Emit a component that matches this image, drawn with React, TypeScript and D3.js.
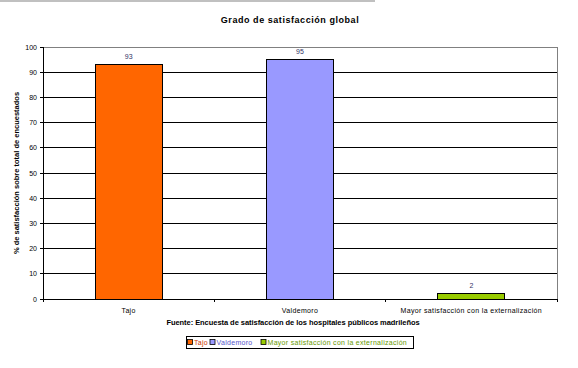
import React from "react";
import * as d3 from "d3";

const categories = ["Tajo", "Valdemoro", "Mayor satisfacción con la externalización"];
const values = [93, 95, 2];
const colors = ["#FF6600", "#9999FF", "#99CC00"];
const legendTextColors = ["#cc3300", "#5555cc", "#669900"];
const yTicks = [0, 10, 20, 30, 40, 50, 60, 70, 80, 90, 100];

const W = 578, H = 368;
const L = 43, R = 557, T = 47, B = 299;
const FONT = "'Liberation Sans', Arial, sans-serif";

export default function App() {
  const x = d3.scaleBand<string>().domain(categories).range([L, R]).padding(0);
  const y = d3.scaleLinear().domain([0, 100]).range([B, T]);
  const bw = x.bandwidth() * 0.39;

  const legendItems = categories;
  const legendX = 186, legendY = 336, legendW = 227, legendH = 12;
  const legendOffsets = [1.5, 24, 75];

  return (
    <svg width={W} height={H} style={{ position: "absolute", left: 0, top: 0, background: "#fff" }} fontFamily={FONT}>
      <rect x={0} y={0} width={375} height={2} fill="#c0c0c0" />
      <text x={290} y={23} textAnchor="middle" fontSize={9} fontWeight="bold" letterSpacing={0.55} fill="#000">
        Grado de satisfacción global
      </text>

      {yTicks.filter(t => t > 0 && t < 100).map(t => (
        <line key={t} x1={L} x2={R} y1={y(t)} y2={y(t)} stroke="#000" strokeWidth={1} shapeRendering="crispEdges" />
      ))}
      <line x1={L} x2={R} y1={y(100)} y2={y(100)} stroke="#808080" strokeWidth={1} shapeRendering="crispEdges" />
      <line x1={R} x2={R} y1={y(100)} y2={y(0)} stroke="#808080" strokeWidth={1} shapeRendering="crispEdges" />

      {categories.map((c, i) => {
        const cx = (x(c) as number) + x.bandwidth() / 2;
        return (
          <g key={c}>
            <rect x={cx - bw / 2} y={y(values[i])} width={bw} height={y(0) - y(values[i])}
              fill={colors[i]} stroke="#000" strokeWidth={1} shapeRendering="crispEdges" />
            <text x={cx} y={y(values[i]) - 6} textAnchor="middle" fontSize={7} fill="#333366">{values[i]}</text>
          </g>
        );
      })}

      <line x1={L} x2={L} y1={y(100)} y2={y(0)} stroke="#000" strokeWidth={1} shapeRendering="crispEdges" />
      <line x1={L} x2={R} y1={y(0)} y2={y(0)} stroke="#000" strokeWidth={1} shapeRendering="crispEdges" />
      {yTicks.map(t => (
        <g key={t}>
          <line x1={L - 3} x2={L} y1={y(t)} y2={y(t)} stroke="#000" shapeRendering="crispEdges" />
          <text x={L - 6} y={y(t) + 2.5} textAnchor="end" fontSize={7} fill="#000">{t}</text>
        </g>
      ))}
      {[...categories.map(c => x(c) as number), R].map((px, i) => (
        <line key={i} x1={px} x2={px} y1={y(0)} y2={y(0) + 3} stroke="#000" shapeRendering="crispEdges" />
      ))}
      {categories.map(c => (
        <text key={c} x={(x(c) as number) + x.bandwidth() / 2} y={312.5} textAnchor="middle" fontSize={7} letterSpacing={0.35} fill="#000">{c}</text>
      ))}

      <text transform={`translate(19,${(T + B) / 2}) rotate(-90)`} textAnchor="middle" fontSize={7.5} fontWeight="bold" fill="#000">
        % de satisfacción sobre total de encuestados
      </text>
      <text x={293} y={325} textAnchor="middle" fontSize={7.5} fontWeight="bold" letterSpacing={-0.05} fill="#000">
        Fuente: Encuesta de satisfacción de los hospitales públicos madrileños
      </text>

      <rect x={legendX} y={legendY} width={legendW} height={legendH} fill="#fff" stroke="#000" strokeWidth={1} shapeRendering="crispEdges" />
      {legendItems.map((c, i) => (
        <g key={c}>
          <rect x={legendX + legendOffsets[i]} y={legendY + 3.5} width={5} height={5} fill={colors[i]} stroke="#000" strokeWidth={0.8} />
          <text x={legendX + legendOffsets[i] + 6.5} y={legendY + 8.5} fontSize={7} letterSpacing={0.3} fill={legendTextColors[i]}>{c}</text>
        </g>
      ))}
    </svg>
  );
}
